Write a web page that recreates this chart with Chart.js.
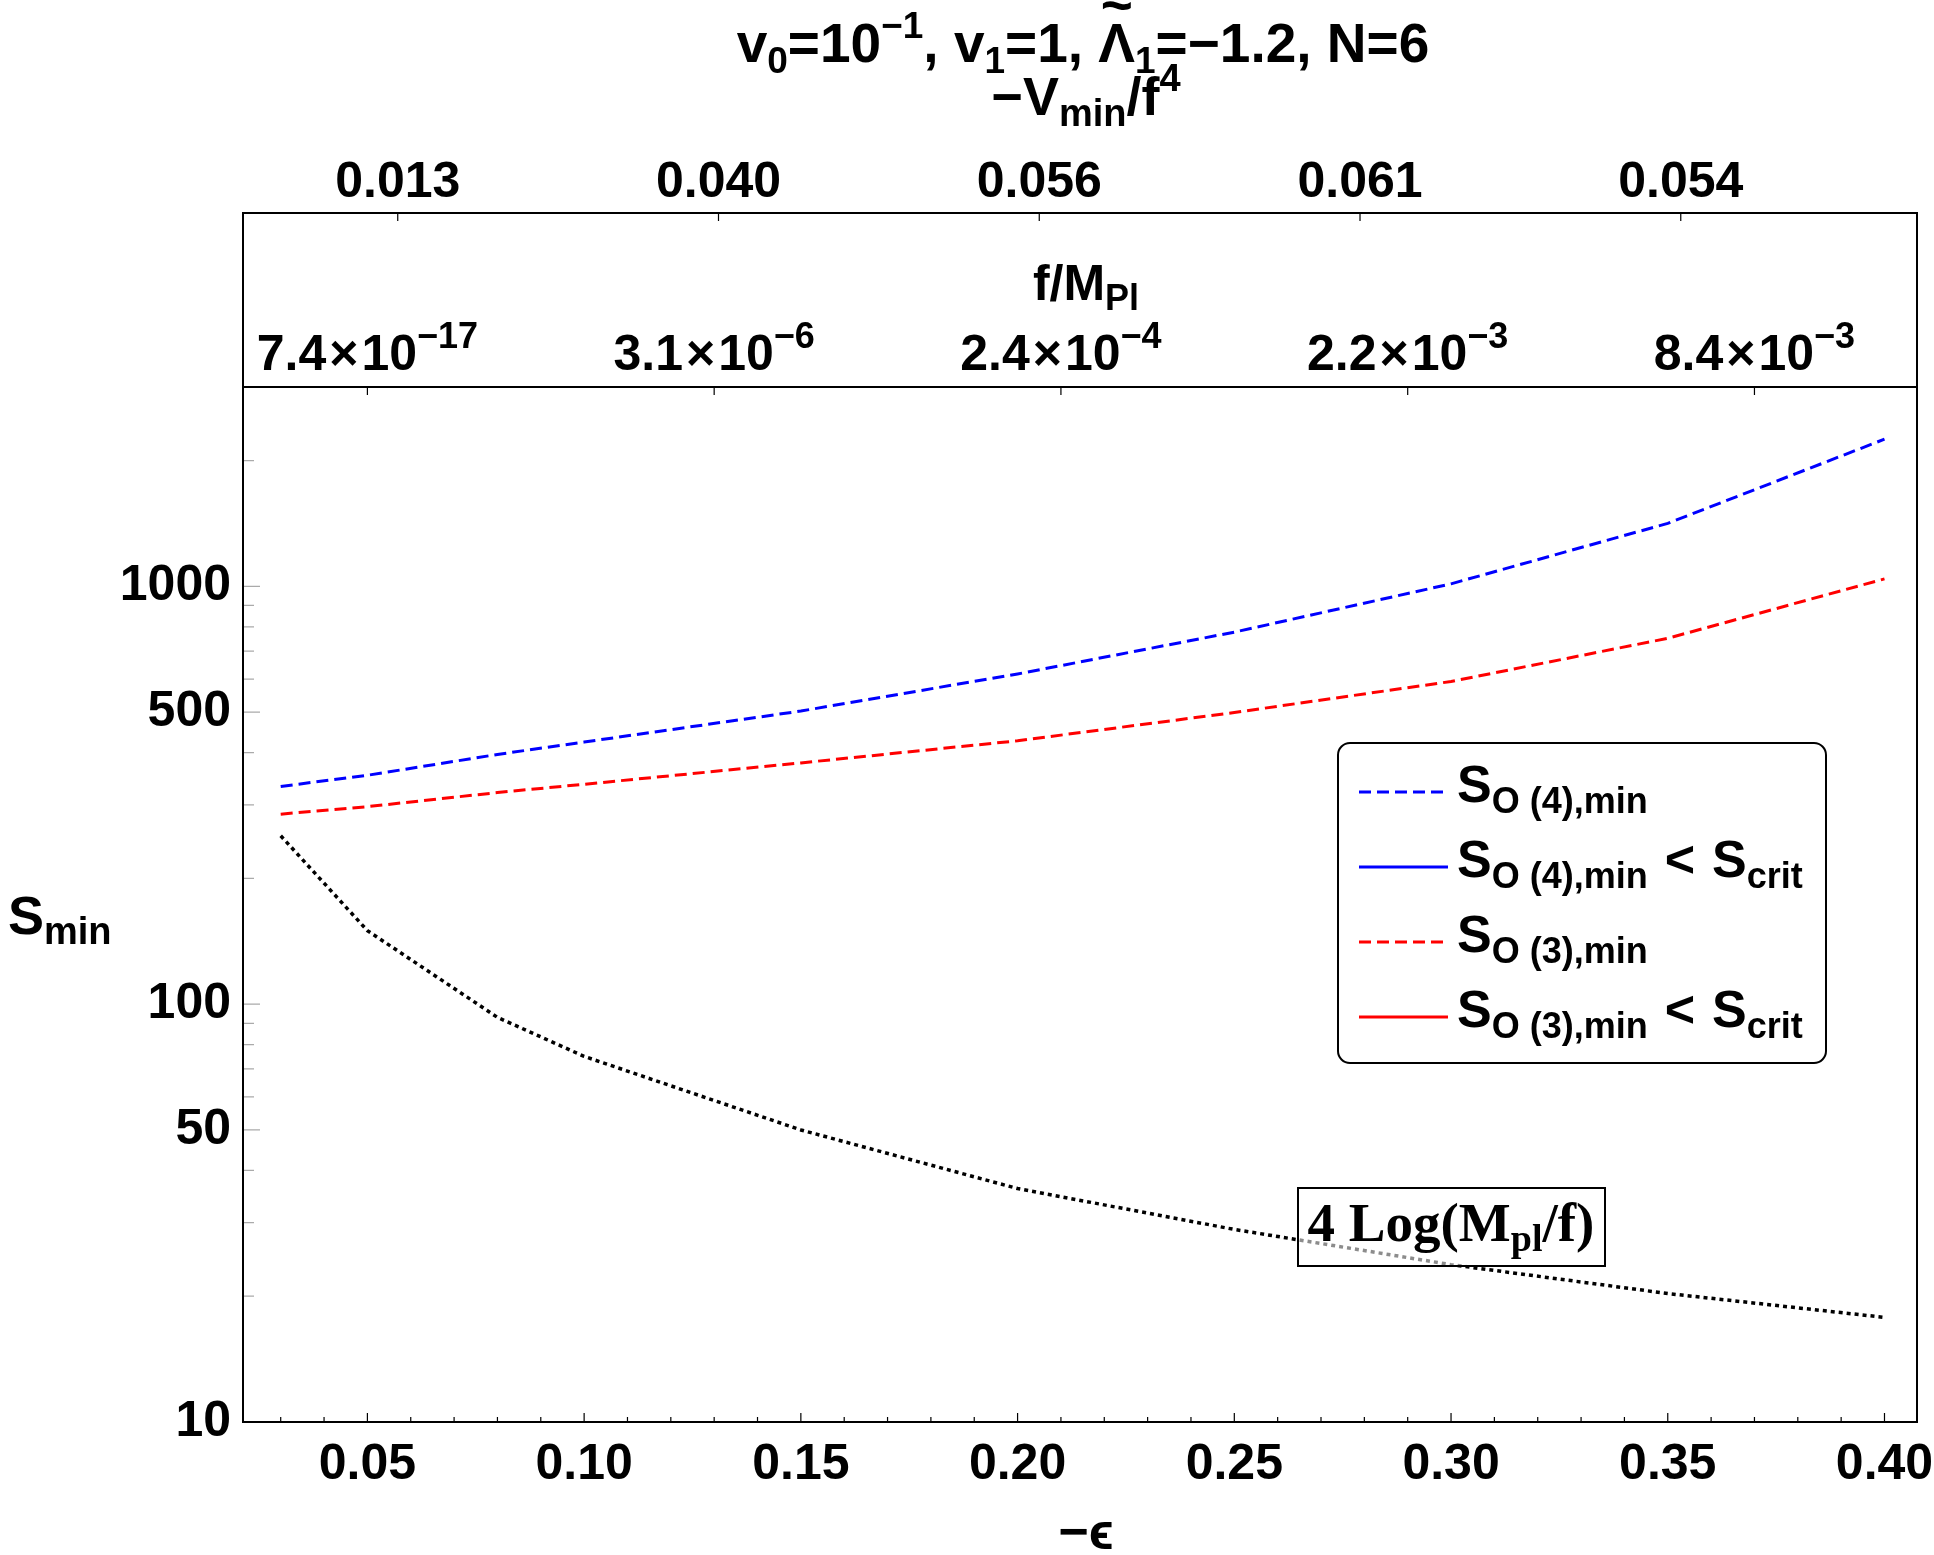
<!DOCTYPE html>
<html>
<head>
<meta charset="utf-8">
<script src="https://cdn.jsdelivr.net/npm/chart.js@4.4.1/dist/chart.umd.min.js"></script>
<style>
body{margin:0;background:#fff}
#wrap{width:1934px;height:1555px}
</style>
</head>
<body>
<div id="wrap"><canvas id="c" width="1934" height="1555"></canvas></div>
<script>
// -epsilon values where the curves were sampled
const eps=[0.03,0.05,0.08,0.10,0.15,0.20,0.25,0.30,0.35,0.40];
const sO4=[332,353,396,424,503,617,777,1014,1415,2250];
const sO3=[285,297,321,336,378,427,499,592,751,1042];
const logBound=[253,150,93,75,50,36.2,28.9,23.8,20.3,17.8];

const xRange=[0.0213,0.4075];
const yRange=[10,3000];
const xMajor=[0.05,0.10,0.15,0.20,0.25,0.30,0.35,0.40];
const xMinor=[0.03,0.04,0.06,0.07,0.08,0.09,0.11,0.12,0.13,0.14,0.16,0.17,0.18,0.19,0.21,0.22,0.23,0.24,0.26,0.27,0.28,0.29,0.31,0.32,0.33,0.34,0.36,0.37,0.38,0.39];
const yMajor=[10,50,100,500,1000];
const yMinor=[20,30,40,60,70,80,90,200,300,400,600,700,800,900,2000];

// secondary (top) axes
const fTickPos=[0.05,0.13,0.21,0.29,0.37];
const fTickMant=['7.4','3.1','2.4','2.2','8.4'];
const fTickExp=['\u221217','\u22126','\u22124','\u22123','\u22123'];
const vTickPos=[0.057,0.131,0.205,0.279,0.353];
const vTickLabels=['0.013','0.040','0.056','0.061','0.054'];

const FAM='"Liberation Sans", Arial, sans-serif';
const SERIF='"Liberation Serif", "Times New Roman", serif';

function rich(ctx,parts,x,y,align){
  let w=0;
  parts.forEach(p=>{
    ctx.font='bold '+p.s+'px '+(p.fam||FAM);
    p.w=ctx.measureText(p.t).width+(p.gap||0);
    w+=p.w;
  });
  let cx=align==='center'?x-w/2:(align==='right'?x-w:x);
  ctx.textAlign='left';
  ctx.textBaseline='alphabetic';
  parts.forEach(p=>{
    ctx.font='bold '+p.s+'px '+(p.fam||FAM);
    ctx.fillText(p.t,cx+(p.gap||0)/2,y+(p.dy||0));
    if(p.acc){
      const aw=ctx.measureText(p.acc).width;
      ctx.fillText(p.acc,cx+(p.w-aw)/2,y-p.s*0.7);
    }
    cx+=p.w;
  });
  return w;
}

const ds=(label,data,color,dash,width)=>({
  label,
  data:data?eps.map((e,i)=>({x:e,y:data[i]})):[],
  borderColor:color,borderWidth:width||3,borderDash:dash,
  pointRadius:0,fill:false,tension:0
});

const decor={
  id:'decor',
  afterDraw(c){
    const ctx=c.ctx, a=c.chartArea, x=c.scales.x, y=c.scales.y;
    const boxTop=213;
    ctx.save();
    ctx.fillStyle='#000';
    ctx.strokeStyle='#000';

    // ticks, bottom axis (inward)
    ctx.lineWidth=1.2;
    ctx.beginPath();
    xMajor.forEach(v=>{const px=x.getPixelForValue(v);ctx.moveTo(px,a.bottom);ctx.lineTo(px,a.bottom-9);});
    xMinor.forEach(v=>{const px=x.getPixelForValue(v);ctx.moveTo(px,a.bottom);ctx.lineTo(px,a.bottom-5);});
    ctx.stroke();
    // ticks on top of main frame (f/M_Pl)
    ctx.beginPath();
    fTickPos.forEach(v=>{const px=x.getPixelForValue(v);ctx.moveTo(px,a.top);ctx.lineTo(px,a.top+8);});
    // ticks on top of upper box (-V_min/f^4)
    vTickPos.forEach(v=>{const px=x.getPixelForValue(v);ctx.moveTo(px,boxTop);ctx.lineTo(px,boxTop+8);});
    ctx.stroke();
    // y ticks (gray, inward)
    ctx.strokeStyle='#aaa';
    ctx.beginPath();
    yMajor.forEach(v=>{const py=y.getPixelForValue(v);ctx.moveTo(a.left,py);ctx.lineTo(a.left+17,py);});
    yMinor.forEach(v=>{const py=y.getPixelForValue(v);ctx.moveTo(a.left,py);ctx.lineTo(a.left+11,py);});
    ctx.stroke();

    // frames
    ctx.strokeStyle='#000';
    ctx.lineWidth=2;
    ctx.strokeRect(a.left,a.top,a.right-a.left,a.bottom-a.top);
    ctx.strokeRect(a.left,boxTop,a.right-a.left,a.top-boxTop);

    const mid=(a.left+a.right)/2;
    // title
    rich(ctx,[
      {t:'v',s:55},{t:'0',s:37,dy:11},{t:'=10',s:55},{t:'\u22121',s:37,dy:-24},
      {t:', v',s:55},{t:'1',s:37,dy:11},{t:'=1, ',s:55},
      {t:'\u039B',s:55,acc:'~'},{t:'1',s:37,dy:11},{t:'=\u22121.2, N=6',s:55}
    ],mid+3,62,'center');
    rich(ctx,[{t:'\u2212V',s:54},{t:'min',s:38,dy:11},{t:'/f',s:54},{t:'4',s:38,dy:-24}],mid+6,115,'center');

    // upper-axis labels
    vTickPos.forEach((v,i)=>rich(ctx,[{t:vTickLabels[i],s:50}],x.getPixelForValue(v),197,'center'));
    rich(ctx,[{t:'f/M',s:50},{t:'Pl',s:36,dy:10}],mid+6,300,'center');
    fTickPos.forEach((v,i)=>rich(ctx,[
      {t:fTickMant[i],s:50},{t:'\u00D7',s:50,gap:6},{t:'10',s:50},{t:fTickExp[i],s:36,dy:-22}
    ],x.getPixelForValue(v),370,'center'));

    // axis titles
    rich(ctx,[{t:'S',s:54},{t:'min',s:38,dy:10}],8,934,'left');
    rich(ctx,[{t:'\u2212\u03F5',s:52}],mid+6,1549,'center');

    // legend
    const L={x:1338,y:743,w:488,h:320,r:12};
    ctx.fillStyle='#fff';
    ctx.beginPath();
    ctx.roundRect(L.x,L.y,L.w,L.h,L.r);
    ctx.fill();
    ctx.lineWidth=2;ctx.strokeStyle='#000';ctx.stroke();
    const rows=[
      {d:0,sub:'O (4),min',crit:false},
      {d:1,sub:'O (4),min',crit:true},
      {d:2,sub:'O (3),min',crit:false},
      {d:3,sub:'O (3),min',crit:true}
    ];
    rows.forEach((r,i)=>{
      const d=c.data.datasets[r.d];
      const yy=792+i*75;
      ctx.save();
      ctx.strokeStyle=d.borderColor;ctx.lineWidth=3;ctx.setLineDash(d.borderDash||[]);
      ctx.beginPath();ctx.moveTo(1359,yy);ctx.lineTo(1448,yy);ctx.stroke();
      ctx.restore();
      ctx.fillStyle='#000';
      const parts=[{t:'S',s:52},{t:r.sub,s:36,dy:11}];
      if(r.crit) parts.push({t:'<',s:52,gap:34},{t:'S',s:52},{t:'crit',s:36,dy:11});
      rich(ctx,parts,1457,yy+10,'left');
    });

    // annotation box for the dotted curve
    ctx.fillStyle='rgba(255,255,255,0.55)';
    ctx.fillRect(1298,1188,307,78);
    ctx.strokeStyle='#000';ctx.lineWidth=2;
    ctx.strokeRect(1298,1188,307,78);
    ctx.fillStyle='#000';
    rich(ctx,[{t:'4 Log(M',s:55,fam:SERIF},{t:'pl',s:38,dy:10,fam:SERIF},{t:'/f)',s:55,fam:SERIF}],1451,1241,'center');
    ctx.restore();
  }
};

new Chart(document.getElementById('c'),{
  type:'line',
  data:{datasets:[
    ds('S_O(4),min',sO4,'#0000ff',[12,6]),
    ds('S_O(4),min < S_crit',null,'#0000ff',[]),
    ds('S_O(3),min',sO3,'#ff0000',[12,6]),
    ds('S_O(3),min < S_crit',null,'#ff0000',[]),
    ds('4 Log(Mpl/f)',logBound,'#000000',[4,4],3.5)
  ]},
  options:{
    responsive:false,animation:false,
    layout:{padding:{top:387,right:17,left:0,bottom:0}},
    plugins:{legend:{display:false},tooltip:{enabled:false}},
    scales:{
      x:{
        type:'linear',min:xRange[0],max:xRange[1],
        grid:{display:false},border:{display:false},
        afterBuildTicks:s=>{s.ticks=xMajor.concat(xMinor).sort((p,q)=>p-q).map(v=>({value:v,major:xMajor.includes(v)}));},
        afterFit:s=>{s.height=133;s.paddingLeft=0;s.paddingRight=0;},
        ticks:{autoSkip:false,maxRotation:0,minRotation:0,padding:5,color:'#000',
          font:{family:FAM,weight:'bold',size:50},
          callback:(v,i,t)=>t[i].major?v.toFixed(2):''}
      },
      y:{
        type:'logarithmic',min:yRange[0],max:yRange[1],
        grid:{display:false},border:{display:false},
        afterBuildTicks:s=>{s.ticks=yMajor.concat(yMinor).sort((p,q)=>p-q).map(v=>({value:v,major:yMajor.includes(v)}));},
        afterFit:s=>{s.width=243;s.paddingTop=0;s.paddingBottom=0;},
        ticks:{autoSkip:false,padding:4,color:'#000',
          font:{family:FAM,weight:'bold',size:50},
          callback:(v,i,t)=>t[i].major?String(v):''}
      }
    }
  },
  plugins:[decor]
});
</script>
</body>
</html>
